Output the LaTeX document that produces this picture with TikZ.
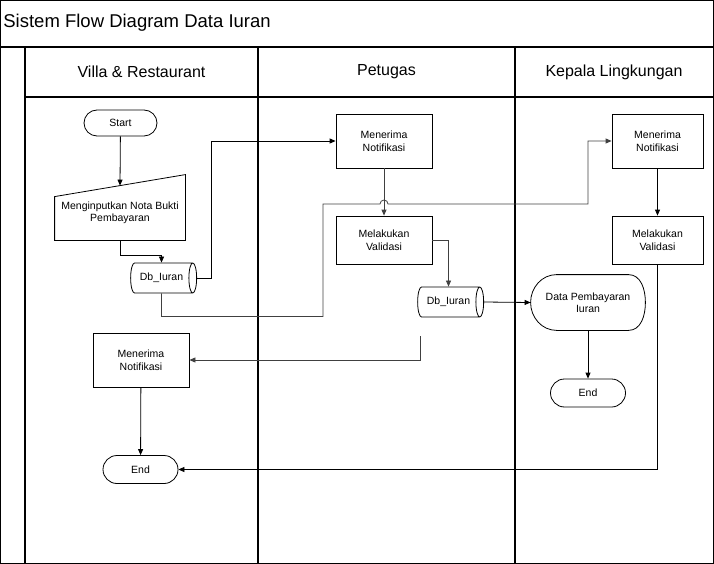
\documentclass[tikz,border=0pt]{standalone}
\usepackage{fontspec}
\setmainfont{Liberation Sans}
\usetikzlibrary{shapes.geometric,arrows.meta}

\begin{document}
\begin{tikzpicture}[x=1pt, y=-1pt, line width=0.8pt, >={Triangle[length=6pt,width=5pt]},
		term_style/.style={draw=black,rounded corners=14pt,minimum width=75pt,minimum height=28pt,inner sep=0pt,font=\fontsize{10.5}{12.5}\selectfont},
		proc_style/.style={draw=black,minimum width=96pt,minimum height=54pt,inner sep=0pt,align=center,font=\fontsize{10.5}{12.5}\selectfont},
		db_style/.style={cylinder,draw=black,shape aspect=0.8,minimum width=30pt,minimum height=66pt,inner sep=0pt,font=\fontsize{10.5}{12.5}\selectfont},
		text_style/.style={inner sep=0pt,align=center,font=\fontsize{10.5}{12.5}\selectfont},
		lane_style/.style={draw=black,line width=1.2pt},
		edge_style/.style={draw=black,->},
		edge_style1/.style={draw=black!75,->}]

	% frame and lanes
	\useasboundingbox (0,0) rectangle (714,564);
	\draw[lane_style] (0.5,0.5) rectangle (713.5,563.5);
	\draw[lane_style,line width=1.8pt] (0,47) -- (714,47);
	\draw[lane_style] (25,47) -- (25,564);
	\draw[lane_style] (25,97) -- (714,97);
	\draw[lane_style] (258,47) -- (258,564);
	\draw[lane_style] (515,47) -- (515,564);

	\node[anchor=west,inner sep=0pt,font=\fontsize{18.5}{22}\selectfont] (title) at (3,23) {Sistem Flow Diagram Data Iuran};
	\node[font=\fontsize{16}{19}\selectfont] (h1) at (141.5,72) {Villa \& Restaurant};
	\node[font=\fontsize{16}{19}\selectfont] (h2) at (386.5,72) {Petugas};
	\node[font=\fontsize{16}{19}\selectfont] (h3) at (614,72) {Kepala Lingkungan};

	% Villa & Restaurant
	\node[term_style,minimum width=73pt,minimum height=26pt,rounded corners=13pt] (vs) at (120.5,123) {Start};
	\node[text_style,minimum width=130pt,minimum height=54pt] (vin) at (120,213) {Menginputkan Nota Bukti\\Pembayaran};
	\draw ([yshift=-11pt]vin.north west) -- ([yshift=11pt]vin.north east) -- (vin.south east) -- (vin.south west) -- cycle;
	\node[db_style] (vdb) at (161.5,278) {Db\_Iuran};
	\node[proc_style] (vn) at (141,360) {Menerima\\Notifikasi};
	\node[term_style] (ve) at (140.5,469.5) {End};

	% Petugas
	\node[proc_style] (pn) at (384,141) {Menerima\\Notifikasi};
	\node[proc_style,minimum height=48pt] (pv) at (384,240) {Melakukan\\Validasi};
	\node[db_style] (pdb) at (448.5,302) {Db\_Iuran};
	\coordinate (pret) at (420,336);

	% Kepala Lingkungan
	\node[proc_style,minimum width=91pt] (kn) at (657.5,141) {Menerima\\Notifikasi};
	\node[proc_style,minimum width=91pt,minimum height=48pt] (kv) at (657.5,240) {Melakukan\\Validasi};
	\node[text_style,minimum width=114pt,minimum height=55pt] (kd) at (588,302.5) {Data Pembayaran\\Iuran};
	\draw ([xshift=26pt]kd.north west) -- ([xshift=-17pt]kd.north east) to[out=0,in=90] (kd.east)
		to[out=-90,in=0] ([xshift=-17pt]kd.south east) -- ([xshift=26pt]kd.south west)
		to[out=180,in=-90] (kd.west) to[out=90,in=180] cycle;
	\node[term_style] (ke) at (588,393) {End};

	% connectors
	\draw[edge_style] (vs) -- (vin.north);
	\draw[edge_style] (vin.south) -- ++(0,15) -| (vdb.north);
	\draw[edge_style] (vdb.east) -- ++(14,0) |- (pn.west);
	\draw[edge_style1] (vdb.south) -- ++(0,23) -| (323,204) -- (380,204)
		arc[start angle=180,end angle=0,radius=4pt] -- (588,204) |- (kn.west);
	\draw[edge_style1] (pn) -- (pv);
	\draw[edge_style1] (pv.east) -| (pdb.north);
	\draw[edge_style] (pdb.east) -- (kd.west);
	\draw[edge_style1] (pret) |- (vn.east);
	\draw[edge_style] (vn) -- (ve);
	\draw[edge_style] (kn) -- (kv);
	\draw[edge_style] (kd) -- (ke);
	\draw[edge_style] (kv.south) |- (ve.east);
\end{tikzpicture}
\end{document}
